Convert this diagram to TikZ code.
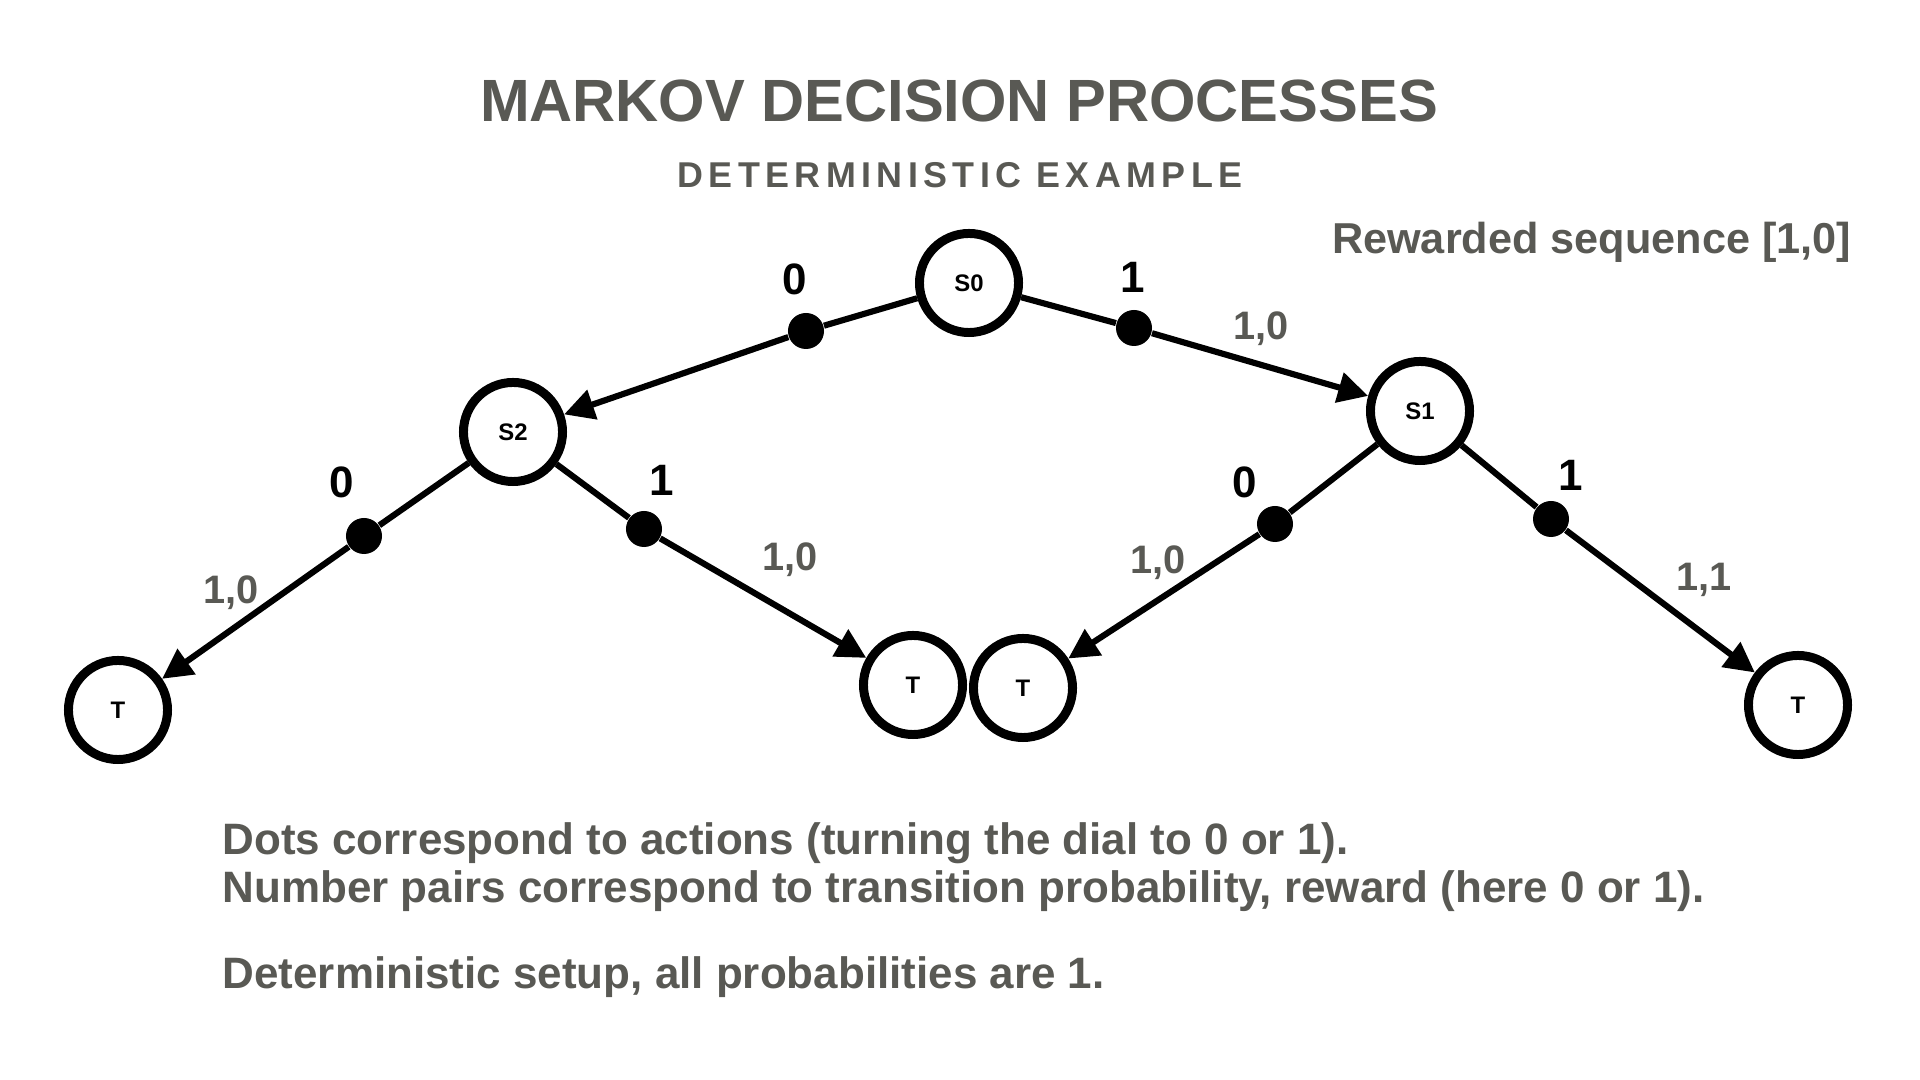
\documentclass[tikz,border=0pt]{standalone}
\usepackage{fontspec}
\setmainfont{Liberation Sans}
\usetikzlibrary{arrows.meta}
\definecolor{textgray}{RGB}{89,89,84}
\begin{document}
\begin{tikzpicture}[x=0.01cm,y=-0.01cm,
  state/.style={circle,draw=black,line width=2.55pt,minimum size=0.99cm,inner sep=0pt,
                fill=white,font=\bfseries\fontsize{6.8}{8}\selectfont},
  act/.style={circle,fill=black,minimum size=0.36cm,inner sep=0pt},
  actlabel/.style={font=\bfseries\fontsize{12.5}{14}\selectfont,text=black,inner sep=0pt},
  rewlabel/.style={font=\bfseries\fontsize{11.3}{13}\selectfont,text=textgray,inner sep=0pt,text depth=0pt},
  link/.style={line width=1.75pt,draw=black},
  arrowlink/.style={link,-{Triangle[length=0.3cm,width=0.3cm]}},
  note/.style={font=\bfseries\fontsize{12.5}{14}\selectfont,text=textgray,inner sep=0pt,anchor=base west}
]
\useasboundingbox[fill=white] (0,0) rectangle (1920,1080);

% headings
\node[font=\bfseries\fontsize{16.96}{20}\selectfont,text=textgray,anchor=base,inner sep=0pt]
  (title) at (959,121.5) {MARKOV DECISION PROCESSES};
\node[font=\bfseries\fontsize{10.2}{12}\selectfont\addfontfeatures{LetterSpace=15},text=textgray,anchor=base,inner sep=0pt]
  (subtitle) at (960,187.5) {DETERMINISTIC EXAMPLE};
\node[font=\bfseries\fontsize{12.3}{14}\selectfont,text=textgray,anchor=base east,inner sep=0pt]
  (reward) at (1852,253.5) {Rewarded sequence [1,0]};

% states
\node[state] (s0) at (969,283) {S0};
\node[state] (s2) at (513,432) {S2};
\node[state] (s1) at (1420,411) {S1};
\node[state] (t1) at (118,710) {T};
\node[state] (t2) at (913,685) {T};
\node[state] (t3) at (1023,688) {T};
\node[state] (t4) at (1798,705) {T};

% action dots
\node[act] (a00) at (806,331) {};
\node[act] (a01) at (1134,328) {};
\node[act] (a20) at (364,536) {};
\node[act] (a21) at (644,529) {};
\node[act] (a10) at (1275,524) {};
\node[act] (a11) at (1551,519) {};

% transitions
\draw[link] (s0) -- (a00);
\draw[arrowlink] (a00) -- (s2);
\draw[link] (s0) -- (a01);
\draw[arrowlink] (a01) -- (s1);
\draw[link] (s2) -- (a20);
\draw[arrowlink] (a20) -- (t1);
\draw[link] (s2) -- (a21);
\draw[arrowlink] (a21) -- (t2);
\draw[link] (s1) -- (a10);
\draw[arrowlink] (a10) -- (t3);
\draw[link] (s1) -- (a11);
\draw[arrowlink] (a11) -- (t4);

% action labels
\node[actlabel] (l00) at (795,279) {0};
\node[actlabel] (l01) at (1133,277) {1};
\node[actlabel] (l20) at (342,482) {0};
\node[actlabel] (l21) at (662,480) {1};
\node[actlabel] (l10) at (1245,482) {0};
\node[actlabel] (l11) at (1571,475) {1};

% probability, reward labels
\node[rewlabel] (r01) at (1261,326) {1,0};
\node[rewlabel] (r20) at (231,590) {1,0};
\node[rewlabel] (r21) at (790,557) {1,0};
\node[rewlabel] (r10) at (1158,560) {1,0};
\node[rewlabel] (r11) at (1704,577) {1,1};

% notes
\node[note] (n1) at (222,855) {Dots correspond to actions (turning the dial to 0 or 1).};
\node[note] (n2) at (222,903) {Number pairs correspond to transition probability, reward (here 0 or 1).};
\node[note] (n3) at (222,989) {Deterministic setup, all probabilities are 1.};
\end{tikzpicture}
\end{document}
